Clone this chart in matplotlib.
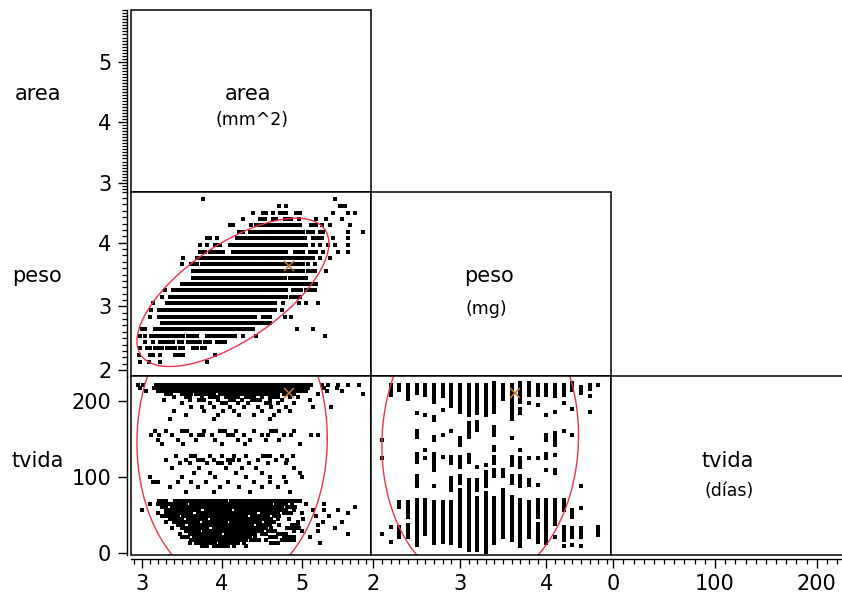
import numpy as np
import matplotlib
matplotlib.use("Agg")
import matplotlib.pyplot as plt
from matplotlib.patches import Rectangle
from matplotlib.ticker import MultipleLocator, FixedLocator

plt.rcParams['font.family'] = ['DejaVu Sans']

# ---------------- data ----------------
variables = ["area", "peso", "tvida"]
units = ["(mm^2)", "(mg)", "(días)"]

area_ticks = [3, 4, 5]
peso_ticks = [2, 3, 4]
tvida_ticks = [0, 100, 200]

# area (x) vs peso (y): horizontal runs of points at each peso level
peso_levels = [4.68, 4.58, 4.47, 4.37, 4.27, 4.17, 4.07, 3.96, 3.86, 3.76, 3.66, 3.56, 3.45,
               3.35, 3.25, 3.15, 3.05, 2.95, 2.84, 2.74, 2.64, 2.54, 2.44, 2.34, 2.23, 2.13]
area_peso_runs = [
    [3.77, 5.41],
    [4.71, 4.81, (5.48, 5.54)],
    [4.39, (4.52, 4.56), 4.64, (4.73, 4.81), (4.93, 4.98), 5.39, 5.58, 5.66],
    [4.27, (4.48, 4.54), (4.64, 4.68), (4.79, 4.87), 4.96, 5.18, 5.31, 5.50],
    [(4.10, 4.14), 4.37, (4.43, 4.56), (4.60, 4.75), (4.79, 4.98), (5.12, 5.18), 5.25, 5.35, 5.60],
    [(4.21, 4.27), (4.35, 4.43), (4.46, 4.64), (4.66, 5.02), (5.08, 5.14), (5.23, 5.27), 5.58, 5.77],
    [(3.81, 3.85), 3.94, (4.19, 4.31), (4.33, 4.69), (4.73, 5.04), (5.14, 5.25), 5.39, 5.58],
    [3.73, 3.81, (3.91, 3.98), (4.10, 4.27), (4.31, 4.81), (4.83, 5.06), 5.14, 5.23, 5.33, 5.41, 5.58],
    [(3.73, 3.79), (3.85, 4.02), (4.14, 4.46), (4.48, 4.81), (4.91, 5.02), (5.10, 5.18), 5.27, 5.45, 5.58],
    [3.52, (3.69, 3.77), (3.81, 4.10), (4.12, 4.43), (4.48, 4.81), (4.85, 5.02), (5.06, 5.14), 5.23, 5.35],
    [3.50, (3.62, 3.69), (3.75, 4.14), (4.19, 4.64), (4.66, 4.85), (4.89, 5.02), 5.08, 5.16],
    [(3.64, 4.81), (4.85, 5.02), (5.08, 5.16), 5.31],
    [(3.64, 4.79), (4.85, 4.96), (5.02, 5.06)],
    [(3.50, 4.66), (4.70, 4.89), (4.93, 5.18)],
    [3.29, (3.39, 4.60), (4.64, 4.81), (4.89, 4.99), (5.06, 5.16)],
    [3.25, (3.35, 4.58), (4.62, 4.81), (4.87, 4.98)],
    [3.14, (3.31, 4.66), 4.77, 4.96, 5.06, 5.21],
    [3.12, (3.21, 4.35), (4.37, 4.66), 4.75],
    [3.10, (3.21, 4.41), (4.52, 4.60), 4.79, 4.87],
    [(3.25, 4.37), (4.41, 4.60)],
    [(3.00, 3.04), (3.16, 4.14), (4.19, 4.39), 4.94, 5.14],
    [2.98, 3.04, (3.12, 3.52), (3.58, 3.69), (3.81, 4.16), 4.27, 4.43, 5.29],
    [3.04, 3.14, (3.23, 3.39), (3.46, 3.50), (3.58, 3.73), (3.79, 3.85), (3.94, 4.00), 4.04],
    [2.98, (3.06, 3.10), (3.16, 3.25), (3.31, 3.41), (3.48, 3.52), (3.64, 3.69), (3.75, 3.79)],
    [2.96, (3.10, 3.14), 3.23, (3.41, 3.52), 3.91],
    [2.98, 3.09, 3.23, 3.81],
]

# area (x) vs tvida (y): horizontal runs of points at tvida levels
tvida_levels_a = [221, 217, 213, 209, 205, 201, 197, 192, 187, 182, 176,
                  160, 155, 149, 143, 128, 123, 118, 112, 105, 100, 94, 87, 80,
                  69, 65, 61, 57, 53, 49, 45, 41, 37, 33, 29, 25, 21, 17, 13, 9]
area_tvida_runs = [
    [2.95, 3.02, (3.18, 5.12), 5.25, 5.33, 5.45, 5.58, 5.72],
    [2.98, (3.15, 4.95), (5.00, 5.08), 5.28, 5.44],
    [3.05, (3.20, 3.50), (3.55, 4.20), (4.25, 4.85), (4.90, 5.05), 5.32, 5.50],
    [(3.30, 3.36), (3.50, 3.62), (3.68, 3.90), (3.98, 4.10), (4.15, 4.50), (4.55, 4.70), (4.78, 4.90), 5.20, 5.77],
    [3.40, (3.55, 3.60), 3.75, (3.85, 3.95), (4.05, 4.20), (4.30, 4.40), 4.50, (4.60, 4.70), 4.85, 4.95],
    [3.28, 3.60, (3.72, 3.78), 3.95, (4.10, 4.15), 4.25, (4.38, 4.48), 4.60, 4.75, 5.10],
    [3.50, 3.85, (4.00, 4.05), 4.20, 4.33, (4.55, 4.60), 4.70, 4.90],
    [3.62, 3.75, 3.90, 4.10, 4.28, 4.45, 4.62, 4.80, 5.14, 5.37],
    [3.40, 3.78, 4.02, 4.15, 4.50, 4.72, 4.85],
    [3.55, 3.95, 4.22, 4.40, 4.65],
    [3.35, 3.90, 4.60],
    [3.16, 3.30, (3.50, 3.56), 3.78, (3.98, 4.04), 4.18, 4.40, (4.62, 4.68), 4.90],
    [3.12, 3.22, 3.38, 3.62, (3.72, 3.76), 3.88, (4.08, 4.14), 4.28, 4.50, 4.58, 4.78, 4.86, 5.12, 5.20],
    [3.20, 3.45, 3.68, 3.92, 4.20, 4.35, 4.56, 4.72],
    [3.25, 3.52, 4.00, 4.29, 4.98],
    [3.43, (3.62, 3.66), 3.85, 4.00, 4.15, 4.30, (4.52, 4.60), 4.75, 4.89],
    [3.30, 3.55, (3.70, 3.76), 3.90, (4.08, 4.14), 4.22, 4.45, 4.68, 4.82],
    [3.48, 3.60, 3.82, (3.95, 4.00), 4.10, 4.34, 4.58, 4.80],
    [3.38, 3.72, 4.05, 4.25, 4.43, 4.90],
    [3.65, 3.85, 4.18, 4.50, 4.98],
    [3.10, 3.50, 3.92, 4.30, 4.60, 4.78, 5.00],
    [(3.14, 3.20), 3.45, 3.62, 3.80, 4.08, 4.40, 4.60, 4.81],
    [3.35, 3.70, 3.98, 4.22, 4.50, 4.70],
    [3.55, 3.90, 4.35, 4.85],
    [(3.22, 3.30), (3.42, 3.70), (3.75, 4.05), (4.12, 4.50), (4.55, 4.85), (4.90, 4.98)],
    [3.10, (3.20, 3.35), (3.40, 3.55), (3.62, 3.95), (4.00, 4.30), (4.35, 4.62), (4.68, 4.80), 4.88, 5.05, 5.28],
    [(3.25, 3.30), (3.38, 3.85), (3.90, 4.20), (4.25, 4.75), (4.82, 4.92), 5.66],
    [3.00, (3.30, 3.50), (3.55, 3.72), (3.80, 4.10), (4.18, 4.55), (4.60, 4.80), 4.90, 5.14, 5.28, 5.45],
    [3.20, (3.30, 3.62), (3.70, 4.00), (4.05, 4.42), (4.50, 4.70), (4.78, 4.86), 5.00, 5.58],
    [(3.25, 3.45), (3.52, 3.90), (3.95, 4.30), (4.38, 4.58), (4.65, 4.72), 5.18, 5.34],
    [(3.35, 3.50), (3.58, 3.80), (3.88, 4.25), (4.30, 4.62), 4.70, 4.84, 5.02],
    [3.30, (3.40, 3.70), (3.78, 4.05), (4.12, 4.48), (4.55, 4.65), 4.95, 5.27, 5.50],
    [(3.45, 3.52), (3.60, 3.95), (4.00, 4.38), (4.45, 4.60), 4.72, (4.88, 4.95), 5.20],
    [3.38, (3.50, 3.82), (3.90, 4.25), (4.30, 4.55), 4.62, (4.82, 4.96), 5.41],
    [(3.55, 3.72), (3.78, 4.10), (4.15, 4.50), (4.58, 4.66), 4.90, 5.00, 5.20],
    [3.48, (3.60, 3.98), (4.05, 4.42), (4.50, 4.55), (4.70, 4.80), 5.58],
    [(3.50, 3.58), (3.65, 3.90), (3.95, 4.35), 4.42, (4.60, 4.68), (4.78, 4.90), 5.10],
    [(3.62, 4.00), (4.05, 4.30), (4.36, 4.46), 4.55, (4.75, 4.90)],
    [3.60, (3.68, 3.92), (3.98, 4.20), 4.28, (4.62, 4.70), 5.23],
    [(3.75, 3.82), (3.90, 4.08), 4.15, 4.30],
]

# peso (x) vs tvida (y): vertical runs of points at each peso level
peso_columns = [2.1, 2.2, 2.3, 2.4, 2.5, 2.6, 2.7, 2.8, 2.9, 3.0, 3.1, 3.2, 3.3,
                3.4, 3.5, 3.6, 3.7, 3.8, 3.9, 4.0, 4.1, 4.2, 4.3, 4.4, 4.5, 4.6]
peso_tvida_runs = [
    [149, 125, 25],
    [(208, 221), 35, 15],
    [(214, 221), (61, 68), (22, 35)],
    [(203, 221), (48, 68), (22, 37)],
    [(210, 221), 184, (153, 160), (120, 131), (88, 101), (11, 70)],
    [(208, 221), 182, 136, 125, (26, 70)],
    [(199, 221), (175, 179), (149, 153), (109, 131), 88, (13, 68)],
    [(206, 221), 188, 155, 127, (15, 68)],
    [(193, 221), 160, (118, 127), (83, 99), (13, 68)],
    [(186, 221), (142, 151), (114, 127), (92, 101), (9, 83)],
    [(182, 221), (166, 171), (153, 160), (120, 129), (88, 96), (4, 84)],
    [(184, 221), (162, 173), 114, (83, 96), (4, 72)],
    [(182, 221), 116, (88, 107), (2, 79)],
    [(186, 223), (155, 166), (136, 140), (118, 127), (101, 109), (13, 72)],
    [(203, 221), (101, 109), (22, 83)],
    [(177, 221), 151, (116, 127), (92, 101), (57, 74), (17, 52)],
    [(199, 223), (184, 190), 136, (114, 125), (88, 101), (9, 70)],
    [(208, 223), 197, 125, (90, 96), (22, 68)],
    [(208, 221), 195, 125, 90, (48, 70), (15, 39)],
    [(208, 221), 182, (149, 155), (125, 131), 109, (13, 70)],
    [(206, 221), 186, (142, 158), 129, (105, 109), (39, 70), 22],
    [(208, 221), 197, 160, (57, 70), (18, 35), 9],
    [(214, 223), 190, 155, (48, 57), (22, 33), 11],
    [(210, 219), 88, 59, (22, 33), 9],
    [(216, 221), 206, 186],
    [221, (24, 35)],
]

# 95% density ellipses: (mean x, mean y, sd x, sd y, correlation)
ellipse_area_peso = (4.14, 3.22, 0.490, 0.476, 0.66)
ellipse_area_tvida = (4.13, 148.0, 0.486, 78.0, 0.015)
ellipse_peso_tvida = (3.235, 148.0, 0.464, 78.0, 0.035)

# highlighted row (area, peso, tvida)
highlight = (4.84, 3.64, 211)

# ---------------- layout ----------------
W, H = 842, 600
fig = plt.figure(figsize=(W / 100, H / 100), dpi=100)

col_px = [(130.7, 370.5), (370.5, 610.5), (610.5, 850.5)]
row_px = [(10, 192), (192, 375.5), (375.5, 555)]
area_lim = (2.8625, 5.86)
area_ylim = (2.846, 5.855)
peso_ylim = (1.914, 4.796)
peso_xlim = (1.968, 4.74)
tvida_ylim = (-2.2, 233.5)
tvida_xlim = (-2.75, 233.2)

FS = 15
MS = 2.9
RED = '#f2304c'
ORANGE = '#c8782c'


def make_ax(r, c):
    x0, x1 = col_px[c]
    y0, y1 = row_px[r]
    ax = fig.add_axes([x0 / W, 1 - y1 / H, (x1 - x0) / W, (y1 - y0) / H])
    for s in ax.spines.values():
        s.set_visible(False)
    ax.add_patch(Rectangle((0, 0), 1, 1, transform=ax.transAxes, fill=False,
                           lw=1.1, ec='black', clip_on=False, zorder=6))
    ax.set_xticks([])
    ax.set_yticks([])
    return ax


def yaxis(ax, ticks, minor=None):
    ax.spines['left'].set_visible(True)
    ax.spines['left'].set_position(('outward', 3))
    ax.spines['left'].set_linewidth(1.0)
    ax.yaxis.set_major_locator(FixedLocator(ticks))
    ax.set_yticklabels([str(t) for t in ticks])
    if minor:
        ax.yaxis.set_minor_locator(MultipleLocator(minor))
    ax.tick_params(axis='y', which='major', length=6.5, width=1.0, pad=4.5,
                   labelsize=FS, direction='out')
    ax.tick_params(axis='y', which='minor', length=3.4, width=0.9, direction='out')


def xaxis(ax, ticks, minor=None):
    ax.spines['bottom'].set_visible(True)
    ax.spines['bottom'].set_position(('outward', 3))
    ax.spines['bottom'].set_linewidth(1.0)
    ax.xaxis.set_major_locator(FixedLocator(ticks))
    ax.set_xticklabels([str(t) for t in ticks])
    if minor:
        ax.xaxis.set_minor_locator(MultipleLocator(minor))
    ax.tick_params(axis='x', which='major', length=6.5, width=1.0, pad=4,
                   labelsize=FS, direction='out')
    ax.tick_params(axis='x', which='minor', length=3.4, width=0.9, direction='out')


def draw_runs(ax, levels, runs, horizontal=True):
    for lev, rl in zip(levels, runs):
        a, b = [], []
        for r in rl:
            a0, a1 = (r, r) if np.isscalar(r) else r
            a += [a0, a1, np.nan]
            b += [lev, lev, np.nan]
        xs, ys = (a, b) if horizontal else (b, a)
        ax.plot(xs, ys, color='black', lw=MS, solid_capstyle='butt',
                marker='s', ms=MS, mew=0, mfc='black', zorder=2)


def draw_ellipse(ax, params):
    mx, my, sx, sy, r = params
    c = np.sqrt(5.991)
    th = np.linspace(0, 2 * np.pi, 400)
    z1, z2 = c * np.cos(th), c * np.sin(th)
    x = mx + sx * z1
    y = my + sy * (r * z1 + np.sqrt(1 - r ** 2) * z2)
    ax.plot(x, y, color=RED, lw=1.0, zorder=3)


# row 1: area diagonal
ax11 = make_ax(0, 0)
ax11.set_xlim(*area_lim)
ax11.set_ylim(*area_ylim)
yaxis(ax11, area_ticks, 0.05)

# row 2
ax21 = make_ax(1, 0)
ax21.set_xlim(*area_lim)
ax21.set_ylim(*peso_ylim)
yaxis(ax21, peso_ticks, 0.1)
draw_runs(ax21, peso_levels, area_peso_runs, horizontal=True)
draw_ellipse(ax21, ellipse_area_peso)
ax21.plot(highlight[0], highlight[1], marker='x', ms=7, mew=1.1, color=ORANGE, zorder=4)

ax22 = make_ax(1, 1)
ax22.set_xlim(*peso_xlim)
ax22.set_ylim(*peso_ylim)

# row 3
ax31 = make_ax(2, 0)
ax31.set_xlim(*area_lim)
ax31.set_ylim(*tvida_ylim)
yaxis(ax31, tvida_ticks)
xaxis(ax31, area_ticks, 0.1)
draw_runs(ax31, tvida_levels_a, area_tvida_runs, horizontal=True)
draw_ellipse(ax31, ellipse_area_tvida)
ax31.plot(highlight[0], highlight[2], marker='x', ms=7, mew=1.1, color=ORANGE, zorder=4)

ax32 = make_ax(2, 1)
ax32.set_xlim(*peso_xlim)
ax32.set_ylim(*tvida_ylim)
xaxis(ax32, peso_ticks, 0.1)
draw_runs(ax32, peso_columns, peso_tvida_runs, horizontal=False)
draw_ellipse(ax32, ellipse_peso_tvida)
ax32.plot(highlight[1], highlight[2], marker='x', ms=7, mew=1.1, color=ORANGE, zorder=4)

ax33 = make_ax(2, 2)
ax33.set_xlim(*tvida_xlim)
ax33.set_ylim(*tvida_ylim)
xaxis(ax33, tvida_ticks, 10)

# labels
left_label_y = [100.5, 281.5, 467]
for name, yb in zip(variables, left_label_y):
    fig.text(37.5 / W, 1 - yb / H, name, ha='center', va='baseline', fontsize=FS)

diag_name_pos = [(248, 100.5), (489, 281.5), (728, 467)]
diag_unit_pos = [(252, 125), (486, 314), (729, 496)]
for name, unit, (nx, ny), (ux, uy) in zip(variables, units, diag_name_pos, diag_unit_pos):
    fig.text(nx / W, 1 - ny / H, name, ha='center', va='baseline', fontsize=FS)
    fig.text(ux / W, 1 - uy / H, unit, ha='center', va='baseline', fontsize=12.5)

fig.savefig("out.png", dpi=100)
